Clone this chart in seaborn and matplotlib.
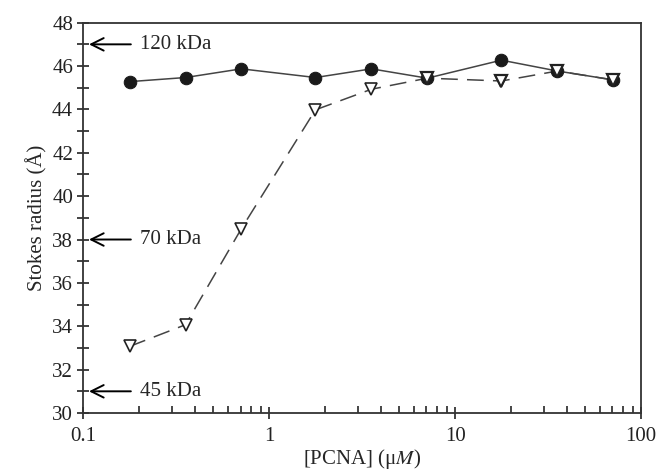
import matplotlib
matplotlib.use("Agg")
import matplotlib.pyplot as plt
import seaborn as sns
import pandas as pd

# Data
pcna_conc = [0.177, 0.354, 0.707, 1.77, 3.54, 7.07, 17.7, 35.4, 70.7]
radius_filled = [45.28, 45.47, 45.87, 45.47, 45.87, 45.44, 46.27, 45.77, 45.36]
radius_open = [33.07, 34.07, 38.5, 43.98, 44.93, 45.44, 45.31, 45.77, 45.36]

marker_labels = ["120 kDa", "70 kDa", "45 kDa"]
marker_radius = [47, 38, 31]

sns.set_style("ticks")
plt.rcParams["font.family"] = ["Liberation Serif", "DejaVu Serif"]
plt.rcParams["mathtext.fontset"] = "stix"

df = pd.DataFrame({"conc": pcna_conc, "filled": radius_filled, "open": radius_open})

fig, ax = plt.subplots(figsize=(6.57, 4.72), dpi=100)
fig.subplots_adjust(left=0.127, right=0.976, top=0.952, bottom=0.125)

sns.lineplot(data=df, x="conc", y="open", ax=ax, color="#444444", lw=1.1,
             marker="v", markersize=8.5, markerfacecolor="white",
             markeredgecolor="#222222", markeredgewidth=1.2,
             dashes=False, linestyle=(0, (11, 6)), zorder=2)
sns.lineplot(data=df, x="conc", y="filled", ax=ax, color="#444444", lw=1.1,
             marker="o", markersize=9, markerfacecolor="#1a1a1a",
             markeredgecolor="#1a1a1a", zorder=3)
# open triangles drawn again on top where they overlap the circles
ax.plot(df["conc"][5:], df["open"][5:], ls="none", marker="v", markersize=8,
        markerfacecolor="white", markeredgecolor="#222222", markeredgewidth=1.6,
        zorder=4)

ax.set_xscale("log")
ax.set_xlim(0.1, 100)
ax.set_ylim(30, 48)
ax.set_yticks(range(30, 49, 2))
ax.set_yticks(range(31, 48, 2), minor=True)
ax.set_xticks([0.1, 1, 10, 100])
ax.set_xticklabels(["0.1", "1", "10", "100"])

ax.tick_params(axis="y", which="both", direction="inout", length=8, width=1.2,
               labelsize=15, colors="#222222")
ax.tick_params(axis="x", which="major", direction="inout", length=8, width=1.2,
               labelsize=15, colors="#222222", pad=6)
ax.tick_params(axis="x", which="minor", direction="in", length=5, width=1.2)

for sp in ax.spines.values():
    sp.set_linewidth(1.3)
    sp.set_color("#333333")

ax.set_xlabel(r"[PCNA] (μ$\mathit{M}$)", fontsize=15, labelpad=1)
ax.set_ylabel("Stokes radius (Å)", fontsize=15, labelpad=3)

for lab, r in zip(marker_labels, marker_radius):
    ax.annotate("", xy=(0.005, r), xytext=(0.09, r),
                xycoords=("axes fraction", "data"),
                textcoords=("axes fraction", "data"),
                arrowprops=dict(arrowstyle="->,head_length=0.9,head_width=0.45",
                                color="black", lw=1.4))
    ax.text(0.102, r, lab, transform=ax.get_yaxis_transform(),
            fontsize=15, va="center", ha="left")

plt.savefig("out.png", dpi=100)
